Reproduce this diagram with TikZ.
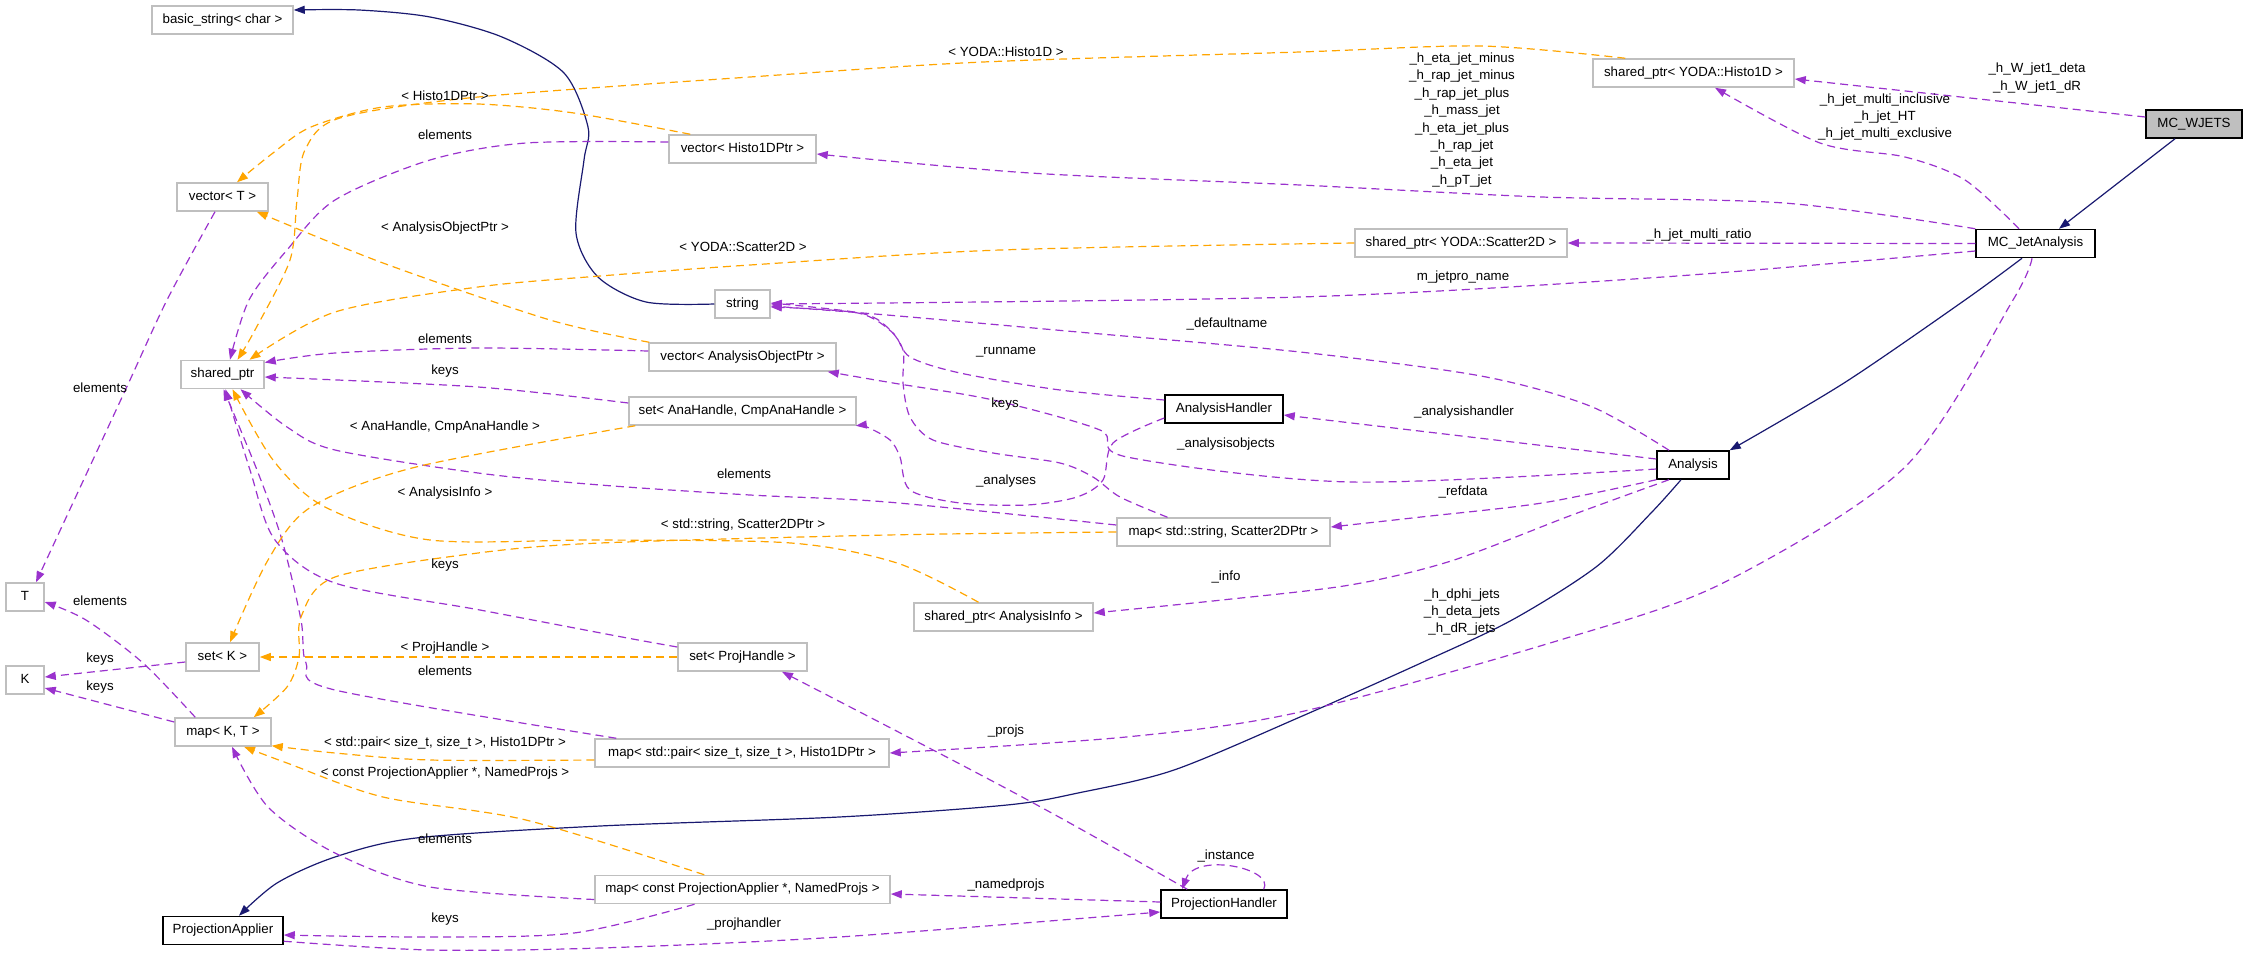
\documentclass[tikz,border=0pt]{standalone}
\usepackage{fontspec}
\setmainfont{Liberation Sans}
\usetikzlibrary{arrows.meta}
\definecolor{pur}{HTML}{9A32CD}
\definecolor{org}{HTML}{FFA500}
\definecolor{navy}{HTML}{191970}
\definecolor{boxgray}{HTML}{BFBFBF}
\tikzset{
  box/.style={draw=boxgray, line width=1.5pt, fill=white, minimum height=28pt, inner sep=0pt, text height=9.6pt, text depth=2.8pt},
  bbox/.style={box, draw=black},
  usedge/.style={draw=pur, line width=1.2pt, dash pattern=on 8pt off 5pt, -{Triangle[length=11pt,width=8pt]}},
  tmpledge/.style={usedge, draw=org},
  inhedge/.style={draw=navy, line width=1.2pt, -{Triangle[length=11pt,width=8pt]}},
  lbl/.style={inner sep=0pt, align=center}
}
\begin{document}
\begin{tikzpicture}[x=1pt,y=-1pt, font=\fontsize{13.3}{17.4}\selectfont]
\useasboundingbox (0,0) rectangle (2248,956);
% nodes
\node[box, minimum width=141pt] (basic) at (222.5,20) {basic\_string< char >};
\node[box, minimum width=91pt] (vecT) at (222.5,197) {vector< T >};
\node[box, minimum width=147pt] (vecH) at (742.5,149) {vector< Histo1DPtr >};
\node[box, minimum width=55pt] (str) at (742.5,304) {string};
\node[box, minimum width=201pt] (spH) at (1693.5,73) {shared\_ptr< YODA::Histo1D >};
\node[bbox, fill=boxgray, minimum width=96pt] (wj) at (2194,124) {MC\_WJETS};
\node[bbox, minimum width=119pt] (mcj) at (2035.5,243.5) {MC\_JetAnalysis};
\node[box, minimum width=212pt] (spS) at (1461,243) {shared\_ptr< YODA::Scatter2D >};
\node[box, minimum width=83pt] (sp) at (222.5,374.5) {shared\_ptr};
\node[box, minimum width=38pt] (T) at (25,597) {T};
\node[box, minimum width=187pt] (vecA) at (742.5,357) {vector< AnalysisObjectPtr >};
\node[box, minimum width=227pt] (setA) at (742.5,411) {set< AnaHandle, CmpAnaHandle >};
\node[bbox, minimum width=118pt] (ah) at (1224,409) {AnalysisHandler};
\node[box, minimum width=213pt] (mapS) at (1223.5,532) {map< std::string, Scatter2DPtr >};
\node[box, minimum width=179pt] (spAI) at (1003.5,617) {shared\_ptr< AnalysisInfo >};
\node[bbox, minimum width=72pt] (an) at (1693,465) {Analysis};
\node[box, minimum width=73pt] (setK) at (222.5,657) {set< K >};
\node[box, minimum width=38pt] (K) at (25,680) {K};
\node[box, minimum width=96pt] (mapKT) at (223,732) {map< K, T >};
\node[box, minimum width=294pt] (mapP) at (742,753) {map< std::pair< size\_t, size\_t >, Histo1DPtr >};
\node[box, minimum width=295pt] (mapC) at (742.5,889.5) {map< const ProjectionApplier *, NamedProjs >};
\node[bbox, minimum width=120pt] (PA) at (223,930.5) {ProjectionApplier};
\node[bbox, minimum width=126pt] (PH) at (1224,904) {ProjectionHandler};
\node[box, minimum width=129pt] (setPH) at (742.5,657) {set< ProjHandle >};

% inheritance
\draw[inhedge] ([xshift=-19pt]wj.south) -- ([xshift=23.5pt]mcj.north);
\draw[inhedge] plot[smooth] coordinates {([xshift=-13.5pt]mcj.south) (1965,300) (1844,383) (an.north east)};
\draw[inhedge] plot[smooth] coordinates {([xshift=-12pt]an.south) (1651,513) (1596,567) (1512,620) (1421,663) (1300,717) (1174,770) (1078,793) (1007,805) (839,817) (600,826) (416,838) (335,857) (277,883) ([xshift=16pt]PA.north)};
\draw[inhedge] plot[smooth] coordinates {(str.west) (646,302) (598,277) (576,233) (584,160) (588,127) (564,73) (502,37) (430,17) (359,10) ([yshift=10pt]basic.east)};

% usage (purple)
\draw[usedge] ([yshift=7pt]wj.west) -- ([yshift=-6pt]spH.east);
\draw[usedge] plot[smooth] coordinates {([xshift=-16.5pt]mcj.north) (1965,180) (1905,157) (1820,143) ([xshift=21.5pt]spH.south)};
\draw[usedge] plot[smooth] coordinates {(mcj.north west) (1784,203) (1542,197) (1300,185) (1030,173) ([yshift=-5pt]vecH.east)};
\draw[usedge] (mcj.west) -- (spS.east);
\draw[usedge] plot[smooth] coordinates {([yshift=-7.5pt]mcj.west) (1663,277) (1300,297) (str.east)};
\draw[usedge] plot[smooth] coordinates {([xshift=-3.5pt]mcj.south) (2013,300) (1905,467) (1723,583) (1560,640) (1300,712) (1126,737) (mapP.east)};
\draw[usedge] plot[smooth] coordinates {([xshift=-24pt]an.north) (1590,406) (1481,376) (1300,352) (1078,332) (887,315) ([yshift=-2pt]str.east)};
\draw[usedge] plot[smooth] coordinates {([yshift=9pt]ah.west) (1060,390) (960,373) (910,357) (893,333) (858,313) ([yshift=-3pt]str.east)};
\draw[usedge] ([yshift=6pt]an.west) -- ([yshift=-6pt]ah.east);
\draw[usedge] plot[smooth] coordinates {([yshift=-4pt]an.west) (1350,482) (1127,457) (1100,430) (993,400) (893,383) ([xshift=-9pt]vecA.south east)};
\draw[usedge] plot[smooth] coordinates {([xshift=-56pt]mapS.north) (1120,497) (1093,477) (1060,463) (993,453) (933,440) (910,417) (903,383) (903,350) (887,327) (860,313) ([yshift=1pt]str.east)};
\draw[usedge] plot[smooth] coordinates {([yshift=-9pt]ah.west) (1113,443) (1103,480) (1077,497) (1027,505) (960,503) (910,490) (900,457) (890,440) (867,427) ([xshift=-1pt]setA.south east)};
\draw[usedge] plot[smooth] coordinates {(an.south west) (1542,503) (1421,517) ([yshift=5pt]mapS.east)};
\draw[usedge] plot[smooth] coordinates {([xshift=-24pt]an.south) (1572,515) (1451,561) (1350,585) (1222,600) ([yshift=4pt]spAI.east)};
\draw[usedge] plot[smooth] coordinates {([yshift=7pt]vecH.west) (526,143) (430,160) (335,200) (287,250) (249,300) ([xshift=7.5pt]sp.north)};
\draw[usedge] plot[smooth] coordinates {([yshift=6pt]vecA.west) (478,348) (335,353) ([yshift=12pt]sp.east)};
\draw[usedge] plot[smooth] coordinates {([yshift=8pt]setA.west) (478,387) ([yshift=-2.5pt]sp.east)};
\draw[usedge] plot[smooth] coordinates {([yshift=7pt]mapS.west) (887,502) (750,495) (600,485) (478,473) (335,450) (287,427) ([xshift=18pt]sp.south)};
\draw[usedge] plot[smooth] coordinates {([yshift=10pt]setPH.west) (622,637) (480,610) (335,583) (275,540) (250,470) ([xshift=3pt]sp.south)};
\draw[usedge] plot[smooth] coordinates {([xshift=22pt]mapP.north west) (335,690) (306,663) (301,620) (282,540) (257,470) ([xshift=1pt]sp.south)};
\draw[usedge] plot[smooth] coordinates {([yshift=-10pt]mapC.west) (430,887) (335,853) (268,807) ([xshift=9pt]mapKT.south)};
\draw[usedge] plot[smooth] coordinates {([xshift=-48pt]mapC.south) (574,933) (430,937) ([yshift=-4.5pt]PA.east)};
\draw[usedge] plot[smooth] coordinates {([yshift=4pt]PA.south east) (430,950) (600,948) (839,937) ([yshift=-8pt]PH.west)};
\draw[usedge] ([yshift=2pt]PH.west) .. controls (1030,898) .. ([yshift=-4.5pt]mapC.east);
\draw[usedge] ([xshift=-24pt]PH.north east) .. controls (1275,868) and (1195,852) .. ([xshift=22pt]PH.north west);
\draw[usedge] ([xshift=27pt]PH.north west) .. controls (1030,800) .. ([xshift=39.5pt]setPH.south);
\draw[usedge] plot[smooth] coordinates {([xshift=-7.5pt]vecT.south) (167,300) (124,393) ([xshift=11pt]T.north)};
\draw[usedge] plot[smooth] coordinates {([xshift=21pt]mapKT.north west) (143,663) (86,620) ([yshift=-5pt]T.east)};
\draw[usedge] ([yshift=-5pt]setK.west) -- ([yshift=3pt]K.east);
\draw[usedge] ([yshift=10pt]mapKT.west) -- ([yshift=-8pt]K.east);

% template (orange)
\draw[tmpledge] plot[smooth] coordinates {([xshift=33pt]spH.north west) (1481,46) (1300,52) (983,62) (750,77) (478,97) (340,118) (305,150) (297,200) (290,260) (255,330) ([xshift=15pt]sp.north)};
\draw[tmpledge] plot[smooth] coordinates {([xshift=22pt]vecH.north west) (574,113) (478,104) (383,107) (311,127) (273,153) ([xshift=14.5pt]vecT.north)};
\draw[tmpledge] plot[smooth] coordinates {([xshift=1pt]vecA.north west) (550,320) (383,263) ([xshift=-12pt]vecT.south east)};
\draw[tmpledge] plot[smooth] coordinates {(spS.west) (1000,250) (750,265) (600,276) (478,287) (335,312) ([xshift=27pt]sp.north)};
\draw[tmpledge] plot[smooth] coordinates {([xshift=7pt]setA.south west) (416,467) (311,507) (268,560) ([xshift=7.5pt]setK.north)};
\draw[tmpledge] plot[smooth] coordinates {([xshift=-25pt]spAI.north) (897,563) (791,543) (600,540) (430,540) (325,507) (273,460) ([xshift=10pt]sp.south)};
\draw[tmpledge] plot[smooth] coordinates {(mapS.west) (887,535) (600,543) (478,553) (335,577) (301,617) (299,657) (287,687) ([xshift=-18pt]mapKT.north east)};
\draw[tmpledge] (setPH.west) -- (setK.east);
\draw[tmpledge] plot[smooth] coordinates {([yshift=-7pt]mapP.west) (430,760) (335,753) ([yshift=1pt]mapKT.south east)};
\draw[tmpledge] plot[smooth] coordinates {([xshift=110pt]mapC.north west) (526,820) (383,797) (287,763) ([xshift=21pt]mapKT.south)};

% labels
\node[lbl] (l1) at (2037,78) {\_h\_W\_jet1\_deta\\\_h\_W\_jet1\_dR};
\node[lbl] (l2) at (1885,117) {\_h\_jet\_multi\_inclusive\\\_h\_jet\_HT\\\_h\_jet\_multi\_exclusive};
\node[lbl] (l3) at (1462,120) {\_h\_eta\_jet\_minus\\\_h\_rap\_jet\_minus\\\_h\_rap\_jet\_plus\\\_h\_mass\_jet\\\_h\_eta\_jet\_plus\\\_h\_rap\_jet\\\_h\_eta\_jet\\\_h\_pT\_jet};
\node[lbl] (l4) at (1699,235) {\_h\_jet\_multi\_ratio};
\node[lbl] (l5) at (1463,277) {m\_jetpro\_name};
\node[lbl] (l6) at (1006,52) {< YODA::Histo1D >};
\node[lbl] (l7) at (445,96) {< Histo1DPtr >};
\node[lbl] (l8) at (445,135) {elements};
\node[lbl] (l9) at (445,228) {< AnalysisObjectPtr >};
\node[lbl] (l10) at (743,247) {< YODA::Scatter2D >};
\node[lbl] (l11) at (100,388) {elements};
\node[lbl] (l12) at (445,339) {elements};
\node[lbl] (l13) at (445,371) {keys};
\node[lbl] (l14) at (445,427) {< AnaHandle, CmpAnaHandle >};
\node[lbl] (l15) at (445,493) {< AnalysisInfo >};
\node[lbl] (l16) at (445,565) {keys};
\node[lbl] (l17) at (100,601) {elements};
\node[lbl] (l18) at (1227,324) {\_defaultname};
\node[lbl] (l19) at (1006,352) {\_runname};
\node[lbl] (l20) at (1005,404) {keys};
\node[lbl] (l21) at (1226,444) {\_analysisobjects};
\node[lbl] (l22) at (1006,481) {\_analyses};
\node[lbl] (l23) at (744,474) {elements};
\node[lbl] (l24) at (743,525) {< std::string, Scatter2DPtr >};
\node[lbl] (l25) at (1226,577) {\_info};
\node[lbl] (l26) at (1464,412) {\_analysishandler};
\node[lbl] (l27) at (1463,492) {\_refdata};
\node[lbl] (l28) at (1462,612) {\_h\_dphi\_jets\\\_h\_deta\_jets\\\_h\_dR\_jets};
\node[lbl] (l29) at (100,659) {keys};
\node[lbl] (l30) at (100,687) {keys};
\node[lbl] (l31) at (445,648) {< ProjHandle >};
\node[lbl] (l32) at (445,671) {elements};
\node[lbl] (l33) at (445,743) {< std::pair< size\_t, size\_t >, Histo1DPtr >};
\node[lbl] (l34) at (445,773) {< const ProjectionApplier *, NamedProjs >};
\node[lbl] (l35) at (445,839) {elements};
\node[lbl] (l36) at (445,919) {keys};
\node[lbl] (l37) at (1006,731) {\_projs};
\node[lbl] (l38) at (1226,856) {\_instance};
\node[lbl] (l39) at (1006,885) {\_namedprojs};
\node[lbl] (l40) at (744,924) {\_projhandler};
\end{tikzpicture}
\end{document}
